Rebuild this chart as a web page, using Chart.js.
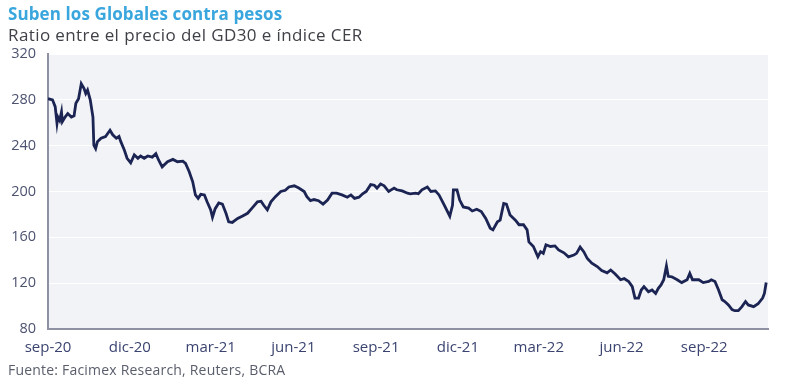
<!DOCTYPE html>
<html lang="es">
<head>
  <meta charset="UTF-8">
  <title>Suben los Globales contra pesos</title>
  <script src="https://cdn.jsdelivr.net/npm/chart.js"></script>
  <style>
    body { margin:0; background:#fff; font-family:"Open Sans", sans-serif; }
    #wrap { position:relative; width:800px; height:391px; }
    #titulo { position:absolute; left:8px; top:2px; font-size:17px; font-weight:700; color:#3aa6de; letter-spacing:0.1px; }
    #subtitulo { position:absolute; left:8px; top:23px; font-size:17px; color:#3f4147; letter-spacing:0.4px; }
    #fuente { position:absolute; left:8px; top:360px; font-size:14px; color:#5a5e6c; letter-spacing:0.2px; }
    canvas { position:absolute; left:0; top:0; }
  </style>
</head>
<body>
<div id="wrap">
  <canvas id="grafico" width="800" height="391"></canvas>
  <div id="titulo">Suben los Globales contra pesos</div>
  <div id="subtitulo">Ratio entre el precio del GD30 e índice CER</div>
  <div id="fuente">Fuente: Facimex Research, Reuters, BCRA</div>
</div>
<script>
  // dias contados desde el 1-sep-2020
  const inicio = Date.UTC(2020, 8, 1);
  const dias = [0,5,8,10,11,13,15,16,19,22,26,29,31,34,37,40,42,44,47,50,51,53,55,59,64,69,72,76,79,81,85,88,92,96,100,103,107,111,116,120,123,127,133,
    139,144,150,153,157,161,164,167,170,174,177,181,183,186,190,194,198,201,205,211,216,222,227,233,237,240,244,248,253,259,
    264,268,274,279,285,288,292,296,301,306,311,316,321,327,333,337,341,346,350,354,359,363,366,370,374,379,385,388,394,400,
    403,409,412,416,422,426,431,435,440,447,450,451,455,458,462,468,472,477,482,487,492,495,500,503,507,510,514,520,524,529,533,
    535,540,545,548,551,554,559,564,568,574,579,585,588,592,596,600,605,611,616,622,626,631,637,641,646,650,653,657,660,663,
    668,672,676,679,682,685,688,690,694,700,705,711,714,717,724,729,735,738,742,746,750,753,757,761,764,768,772,776,779,785,790,795,797,799];
  const ratio = [281,280,274,259.5,265,262,269.5,261,265,268,265,266,277,281,294,290,285.5,288.5,280,265,240.5,237.5,243.5,246.5,248,253.5,249.5,246.5,248,243.5,236,229,225,232,229,231,229,231,230,233,227.5,221.5,226,
    228,226,226.5,224.5,217.5,208.5,197,194,197.5,197,191,184,177.5,185,190,189,181,173.5,173,176.5,178.5,181,185.5,191,191.5,188,184,191,195.5,200,
    201,204,205,203,200,195.5,192,193,192,189,192.5,198.5,198.5,197,195,197,194,195,198,200,206,205.5,203,206.5,205,200,203,201.5,200.5,198.5,
    198,198.5,198,201.5,204,200,200.5,197,189.5,178.5,188,201.5,201.5,192.5,186.5,185.5,183,184.5,182.5,176.5,168,166.5,173.5,175,189.5,189,179.5,175,171,171,166.5,
    156,152,143,147.5,146,153.5,152,152.5,149,146.5,143,144.5,146,151.5,147.5,141.5,137.5,134.5,131,129,131.5,128,123,124,121.5,117,107,107,114,117,
    112.5,114,111,115.5,118.5,123,135,126,125.5,123,120.5,123,128.5,123,123,120.5,121.5,123,121.5,114,105.5,104,101,97,96,96,99.5,104,101,99.5,102,107,111,120.5];

  const etiquetasX = ['sep-20','dic-20','mar-21','jun-21','sep-21','dic-21','mar-22','jun-22','sep-22'];
  const fechasX = [[2020,8],[2020,11],[2021,2],[2021,5],[2021,8],[2021,11],[2022,2],[2022,5],[2022,8]];
  const ticksY = [80,120,160,200,240,280,320];

  const diaDe = f => Math.round((Date.UTC(f[0], f[1], 1) - inicio) / 86400000);
  const posX = fechasX.map(diaDe);

  const fondo = {
    id: 'fondo',
    beforeDraw(chart) {
      const a = chart.chartArea, ctx = chart.ctx;
      ctx.save();
      ctx.fillStyle = '#f2f3f7';
      ctx.fillRect(a.left, a.top, a.right - a.left, a.bottom - a.top);
      ctx.restore();
    }
  };

  new Chart(document.getElementById('grafico'), {
    type: 'line',
    data: {
      datasets: [{
        data: dias.map((d, i) => ({ x: d, y: ratio[i] })),
        borderColor: '#1b2452',
        borderWidth: 2.8,
        pointRadius: 0,
        tension: 0,
        fill: false
      }]
    },
    options: {
      responsive: false,
      animation: false,
      layout: { padding: { top: 54, right: 32, bottom: 32, left: 0 } },
      plugins: { legend: { display: false }, tooltip: { enabled: false } },
      scales: {
        x: {
          type: 'linear', min: 0, max: 801,
          afterBuildTicks: s => { s.ticks = posX.map(v => ({ value: v })); },
          afterFit: s => { s.height = 30; },
          ticks: {
            autoSkip: false, maxRotation: 0, padding: 10,
            color: '#3b4470', font: { family: 'Open Sans', size: 15 },
            callback: v => etiquetasX[posX.indexOf(v)]
          },
          grid: { display: false, drawTicks: false },
          border: { display: true, color: '#8d91a3', width: 2 }
        },
        y: {
          min: 80, max: 320,
          afterBuildTicks: s => { s.ticks = ticksY.map(v => ({ value: v })); },
          afterFit: s => { s.width = 48; },
          ticks: {
            padding: 12, color: '#4d5370', font: { family: 'Open Sans', size: 14.5 }
          },
          grid: { color: '#ffffff', lineWidth: 1, drawTicks: false },
          border: { display: true, color: '#8d91a3', width: 2 }
        }
      }
    },
    plugins: [fondo]
  });
</script>
</body>
</html>
